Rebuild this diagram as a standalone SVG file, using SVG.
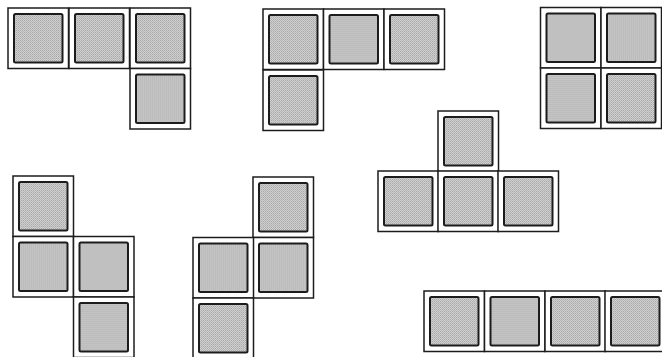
<svg xmlns="http://www.w3.org/2000/svg" xmlns:xlink="http://www.w3.org/1999/xlink" width="662" height="357" viewBox="0 0 662 357">
<style>
.o{fill:#fff;stroke:#1c1c1c;stroke-width:1.5}
.i{fill:url(#dots);stroke:#1c1c1c;stroke-width:2}
</style>
<defs>
<pattern id="dots" width="2" height="2" patternUnits="userSpaceOnUse">
<rect width="2" height="2" fill="#cfcfcf"/>
<rect width="1" height="1" fill="#a9a9a9"/>
<rect x="1" y="1" width="1" height="1" fill="#b8b8b8"/>
</pattern>
<g id="cell">
<rect class="o" x="0" y="0" width="60.5" height="60.5"/>
<rect class="i" x="6" y="6" width="48.5" height="48.5" rx="1.5"/>
</g>
</defs>
<rect width="662" height="357" fill="#fff"/>
<g id="piece-L">
<use xlink:href="#cell" x="8" y="8"/>
<use xlink:href="#cell" x="69" y="8"/>
<use xlink:href="#cell" x="130" y="8"/>
<use xlink:href="#cell" x="130" y="68.5"/>
</g>
<g id="piece-J">
<use xlink:href="#cell" x="263" y="9"/>
<use xlink:href="#cell" x="323.5" y="9"/>
<use xlink:href="#cell" x="384" y="9"/>
<use xlink:href="#cell" x="263" y="70"/>
</g>
<g id="piece-O">
<use xlink:href="#cell" x="540.5" y="7.5"/>
<use xlink:href="#cell" x="601" y="7.5"/>
<use xlink:href="#cell" x="540.5" y="68"/>
<use xlink:href="#cell" x="601" y="68"/>
</g>
<g id="piece-S">
<use xlink:href="#cell" x="13" y="176"/>
<use xlink:href="#cell" x="13" y="236.5"/>
<use xlink:href="#cell" x="73.5" y="236.5"/>
<use xlink:href="#cell" x="73.5" y="297"/>
</g>
<g id="piece-Z">
<use xlink:href="#cell" x="253" y="177"/>
<use xlink:href="#cell" x="253" y="237.5"/>
<use xlink:href="#cell" x="193" y="237.5"/>
<use xlink:href="#cell" x="193" y="298"/>
</g>
<g id="piece-T">
<use xlink:href="#cell" x="438" y="111"/>
<use xlink:href="#cell" x="378" y="171"/>
<use xlink:href="#cell" x="438" y="171"/>
<use xlink:href="#cell" x="498" y="171"/>
</g>
<g id="piece-I">
<use xlink:href="#cell" x="424" y="291"/>
<use xlink:href="#cell" x="484.5" y="291"/>
<use xlink:href="#cell" x="545" y="291"/>
<use xlink:href="#cell" x="605" y="291"/>
</g>
<g id="connectors"/>
</svg>
